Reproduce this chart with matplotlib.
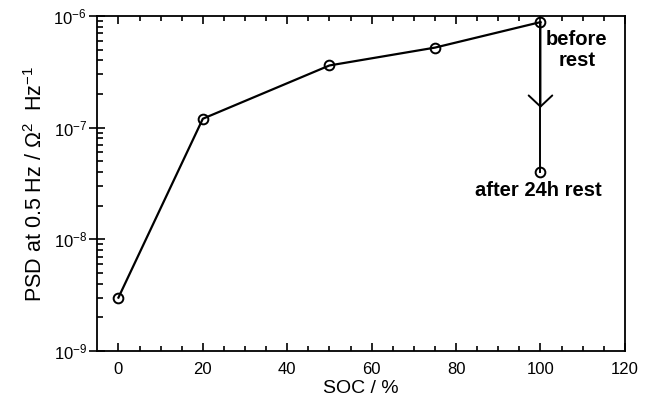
import matplotlib
matplotlib.use("Agg")
import matplotlib.pyplot as plt
from matplotlib.ticker import FixedLocator, LogFormatterMathtext, NullFormatter

plt.rcParams['font.family'] = ['Liberation Sans', 'DejaVu Sans']
plt.rcParams['mathtext.fontset'] = 'custom'
plt.rcParams['mathtext.rm'] = 'Liberation Sans'
plt.rcParams['mathtext.it'] = 'Liberation Sans:italic'
plt.rcParams['mathtext.bf'] = 'Liberation Sans:bold'

soc = [0, 20, 50, 75, 100]
psd = [3.0e-9, 1.2e-7, 3.6e-7, 5.2e-7, 8.8e-7]
rest_soc = [100]
rest_psd = [4.0e-8]
arrow_tip = 1.5e-7

x_ticks = [0, 20, 40, 60, 80, 100, 120]
x_minor = [v for v in range(0, 121, 5) if v % 20 != 0]
y_ticks = [1e-9, 1e-8, 1e-7, 1e-6]
y_minor = [m * d for d in [1e-9, 1e-8, 1e-7] for m in range(2, 10)]

fig = plt.figure(figsize=(6.55, 4.08), dpi=100)
ax = fig.add_axes([0.1486, 0.140, 0.954 - 0.1486, 0.961 - 0.140])

ax.plot(soc, psd, color='black', lw=1.6, marker='o', ms=7, mfc='none', mec='black', mew=1.4)
ax.plot(rest_soc * 2, [psd[-1], rest_psd[0]], color='black', lw=1.4)
ax.plot(rest_soc, rest_psd, ls='none', marker='o', ms=7, mfc='none', mec='black', mew=1.4)
ax.annotate('', xy=(rest_soc[0], arrow_tip), xytext=(rest_soc[0], psd[-1]),
            arrowprops=dict(arrowstyle='->,head_length=0.8,head_width=0.85', color='black', lw=1.4,
                            shrinkA=0, shrinkB=0))

ax.set_yscale('log')
ax.set_xlim(-5, 120)
ax.set_ylim(1e-9, 1e-6)

ax.xaxis.set_major_locator(FixedLocator(x_ticks))
ax.xaxis.set_minor_locator(FixedLocator(x_minor))
ax.yaxis.set_major_locator(FixedLocator(y_ticks))
ax.yaxis.set_minor_locator(FixedLocator(y_minor))
ax.yaxis.set_major_formatter(LogFormatterMathtext())
ax.yaxis.set_minor_formatter(NullFormatter())

ax.tick_params(axis='x', which='both', direction='in', top=True, bottom=True, labelsize=12, pad=8)
ax.tick_params(axis='x', which='major', length=6, width=1.2)
ax.tick_params(axis='x', which='minor', length=3.5, width=1.2)
ax.tick_params(axis='y', which='major', direction='inout', length=11, width=1.2, right=False, labelsize=12, pad=2)
ax.tick_params(axis='y', which='minor', direction='in', length=4, width=1.2, right=False)

for s in ax.spines.values():
    s.set_linewidth(1.3)

ax.set_xlabel('SOC / %', fontsize=14, labelpad=2)
ax.set_ylabel(r'PSD at 0.5 Hz / $\Omega^{2}$  Hz$^{-1}$', fontsize=15.5, labelpad=5)

ax.text(108.6, 4.96e-7, 'before\nrest', ha='center', va='center', fontsize=14.5, fontweight='bold', linespacing=1.15)
ax.text(99.5, 2.75e-8, 'after 24h rest', ha='center', va='center', fontsize=14.5, fontweight='bold')

fig.savefig('out.png', dpi=100)
